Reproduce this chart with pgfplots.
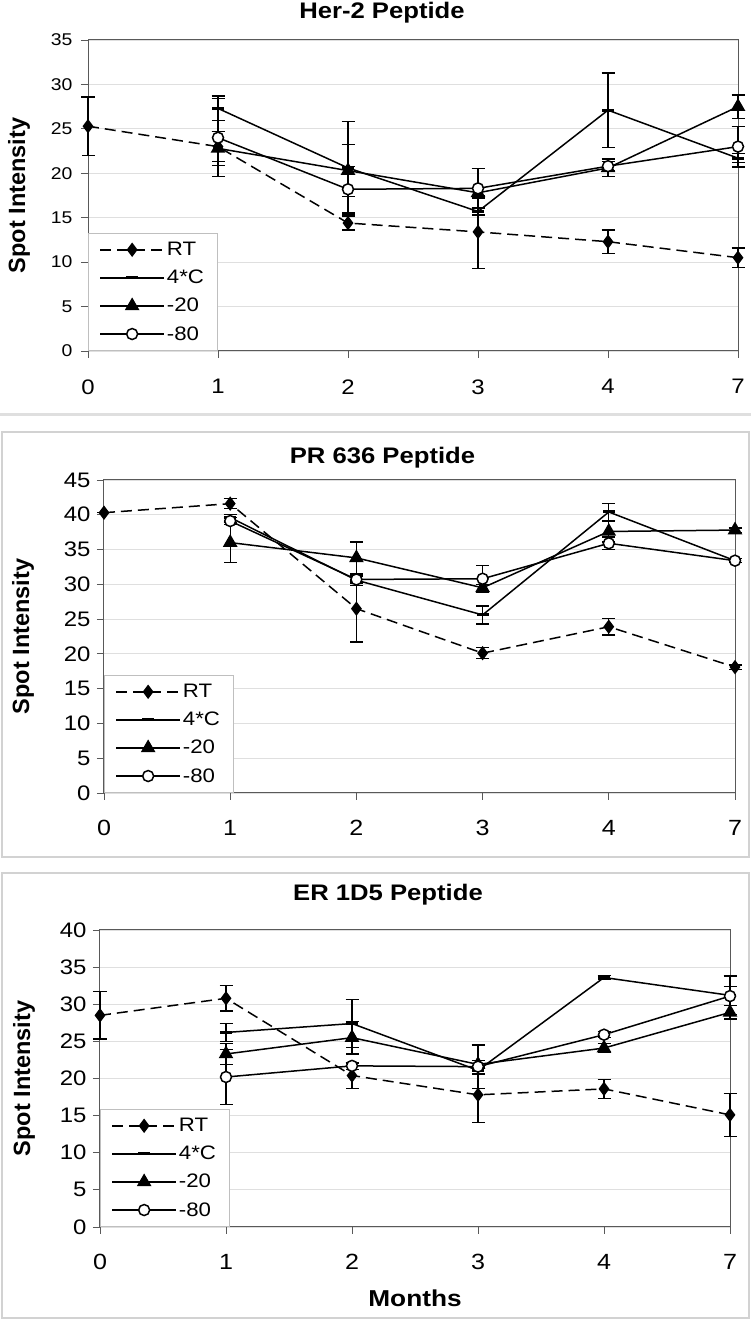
\documentclass[border=0pt]{standalone}
\usepackage{fontspec}
\setmainfont{Liberation Sans}[FakeStretch=1.14]
\newfontfamily\plainsans{Liberation Sans}
\usepackage{pgfplots}
\pgfplotsset{compat=1.18}
\begin{document}
\begin{tikzpicture}
\useasboundingbox (0pt,0pt) rectangle (751pt,1321pt);
\pgfplotsset{
  common/.style={
    scale only axis,
    xmin=0, xmax=5, xtick={0,...,5}, xticklabels={0,1,2,3,4,7},
    ymin=0,
    tick align=outside, xtick pos=bottom, ytick pos=left,
    major tick length=7pt,
    tick style={gray!70!black, line width=0.8pt},
    axis line style={gray!70!black, line width=1pt},
    ymajorgrids, grid style={gray!25, line width=0.8pt},
    clip=false,
    /pgf/number format/assume math mode=true,
    legend cell align=left,
    legend style={at={(0,0)}, anchor=south west, draw=gray!50, line width=0.8pt, fill=white,
      row sep=9pt, inner xsep=11pt, inner ysep=7pt, font=\fontsize{19.5}{21}\selectfont},
    legend image code/.code={\draw[mark repeat=2,mark phase=2,##1] plot coordinates {(0pt,0pt) (32pt,0pt) (64pt,0pt)};},
    ylabel={Spot Intensity},
    every axis y label/.style={at={(axis description cs:0,0.5)}, anchor=center, rotate=90,
       font=\plainsans\bfseries\fontsize{23.5}{26}\selectfont},
    every axis plot/.append style={line width=1.5pt, black},
  },
  rt/.style={dash pattern=on 11pt off 6pt, mark=diamond*, mark size=6pt, mark options={solid, fill=black}},
  fourc/.style={mark=-, mark size=6pt, mark options={line width=3pt}},
  m20/.style={mark=triangle*, mark size=7pt, mark options={fill=black}},
  m80/.style={mark=*, mark size=5.5pt, mark options={fill=white}},
  eb/.style={error bars/y dir=both, error bars/y explicit,
    error bars/error bar style={solid, line width=1.3pt, black},
    error bars/error mark options={rotate=90, mark size=6.5pt, line width=1.3pt, solid, black}},
}
% panel separators / frames
\draw[gray!25, line width=3pt] (0pt,906pt) -- (751pt,906pt);
\draw[gray!35, line width=1.5pt] (2pt,464pt) rectangle (749pt,889pt);
\draw[gray!35, line width=1.5pt] (2pt,3pt) rectangle (749pt,448pt);

% ---------- Panel 1: Her-2 ----------
\begin{axis}[common,
  at={(88pt,970pt)}, anchor=south west, width=650pt, height=311pt,
  ymax=35, ytick={0,5,...,35},
  title={Her-2 Peptide},
  title style={font=\bfseries\fontsize{22.5}{24}\selectfont, at={(0.5,1)}, anchor=center, yshift=21pt, xshift=-31pt},
  ylabel style={yshift=69pt},
  yticklabel style={font=\fontsize{17}{20}\selectfont, xshift=-5pt},
  xticklabel style={font=\fontsize{21}{24}\selectfont, yshift=-18pt},
]
\addplot[rt,eb] table[x=x,y=y,y error=e,row sep=\\]{x y e\\ 0 25.3 3.3\\ 1 23.0 1.7\\ 2 14.4 0.8\\ 3 13.4 4.1\\ 4 12.3 1.3\\ 5 10.5 1.1\\};
\addlegendentry{RT}
\addplot[fourc,eb] table[x=x,y=y,y error=e,row sep=\\]{x y e\\ 1 27.3 1.4\\ 2 20.6 5.2\\ 3 15.7 0.4\\ 4 27.1 4.2\\ 5 21.7 0.5\\};
\addlegendentry{4*C}
\addplot[m20,eb] table[x=x,y=y,y error=e,row sep=\\]{x y e\\ 1 22.8 1.9\\ 2 20.3 2.9\\ 3 17.8 0.6\\ 4 20.6 1.0\\ 5 27.5 1.3\\};
\addlegendentry{-20}
\addplot[m80,eb] table[x=x,y=y,y error=e,row sep=\\]{x y e\\ 1 24.0 4.4\\ 2 18.2 2.6\\ 3 18.3 2.2\\ 4 20.8 0.5\\ 5 23.0 2.3\\};
\addlegendentry{-80}
\end{axis}

% ---------- Panel 2: PR 636 ----------
\begin{axis}[common,
  at={(104pt,528pt)}, anchor=south west, width=631pt, height=313pt,
  ymax=45, ytick={0,5,...,45},
  title={PR 636 Peptide},
  title style={font=\bfseries\fontsize{22.5}{24}\selectfont, at={(0.5,1)}, anchor=center, yshift=16pt, xshift=-37pt},
  ylabel style={yshift=81pt},
  yticklabel style={font=\fontsize{21}{24}\selectfont, xshift=-3pt},
  xticklabel style={font=\fontsize{22}{24}\selectfont, yshift=-17pt},
]
\addplot[rt,eb] table[x=x,y=y,y error=e,row sep=\\]{x y e\\ 0 40.3 0\\ 1 41.6 0.7\\ 2 26.5 4.8\\ 3 20.1 0.8\\ 4 23.9 1.2\\ 5 18.1 0.3\\};
\addlegendentry{RT}
\addplot[fourc,eb] table[x=x,y=y,y error=e,row sep=\\]{x y e\\ 1 39.6 0.4\\ 2 30.6 0.8\\ 3 25.6 1.3\\ 4 40.4 1.2\\ 5 33.4 0.3\\};
\addlegendentry{4*C}
\addplot[m20,eb] table[x=x,y=y,y error=e,row sep=\\]{x y e\\ 1 36.0 2.9\\ 2 33.8 2.3\\ 3 29.5 0.5\\ 4 37.6 1.5\\ 5 37.8 0.3\\};
\addlegendentry{-20}
\addplot[m80,eb] table[x=x,y=y,y error=e,row sep=\\]{x y e\\ 1 39.1 0.5\\ 2 30.7 0.5\\ 3 30.8 1.9\\ 4 35.9 0.9\\ 5 33.4 0.3\\};
\addlegendentry{-80}
\end{axis}

% ---------- Panel 3: ER 1D5 ----------
\begin{axis}[common,
  at={(100pt,94pt)}, anchor=south west, width=630pt, height=297pt,
  ymax=40, ytick={0,5,...,40},
  title={ER 1D5 Peptide},
  title style={font=\bfseries\fontsize{22.5}{24}\selectfont, at={(0.5,1)}, anchor=center, yshift=29pt, xshift=-27pt},
  ylabel style={yshift=76pt},
  xlabel={Months},
  xlabel style={font=\bfseries\fontsize{23}{26}\selectfont, at={(axis description cs:0.5,0)}, anchor=center, yshift=-71pt},
  yticklabel style={font=\fontsize{21}{24}\selectfont, xshift=-3pt},
  xticklabel style={font=\fontsize{22}{24}\selectfont, yshift=-17pt},
]
\addplot[rt,eb] table[x=x,y=y,y error=e,row sep=\\]{x y e\\ 0 28.5 3.2\\ 1 30.8 1.7\\ 2 20.4 1.7\\ 3 17.8 3.7\\ 4 18.6 1.3\\ 5 15.1 2.9\\};
\addlegendentry{RT}
\addplot[fourc,eb] table[x=x,y=y,y error=e,row sep=\\]{x y e\\ 1 26.2 1.2\\ 2 27.4 3.2\\ 3 21.1 0.5\\ 4 33.6 0.3\\ 5 31.2 2.6\\};
\addlegendentry{4*C}
\addplot[m20,eb] table[x=x,y=y,y error=e,row sep=\\]{x y e\\ 1 23.3 1.4\\ 2 25.5 2.2\\ 3 21.9 0.5\\ 4 24.1 0.6\\ 5 28.9 0.9\\};
\addlegendentry{-20}
\addplot[m80,eb] table[x=x,y=y,y error=e,row sep=\\]{x y e\\ 1 20.2 3.7\\ 2 21.7 0.5\\ 3 21.6 2.9\\ 4 25.9 0.4\\ 5 31.1 1.3\\};
\addlegendentry{-80}
\end{axis}
\end{tikzpicture}
\end{document}
